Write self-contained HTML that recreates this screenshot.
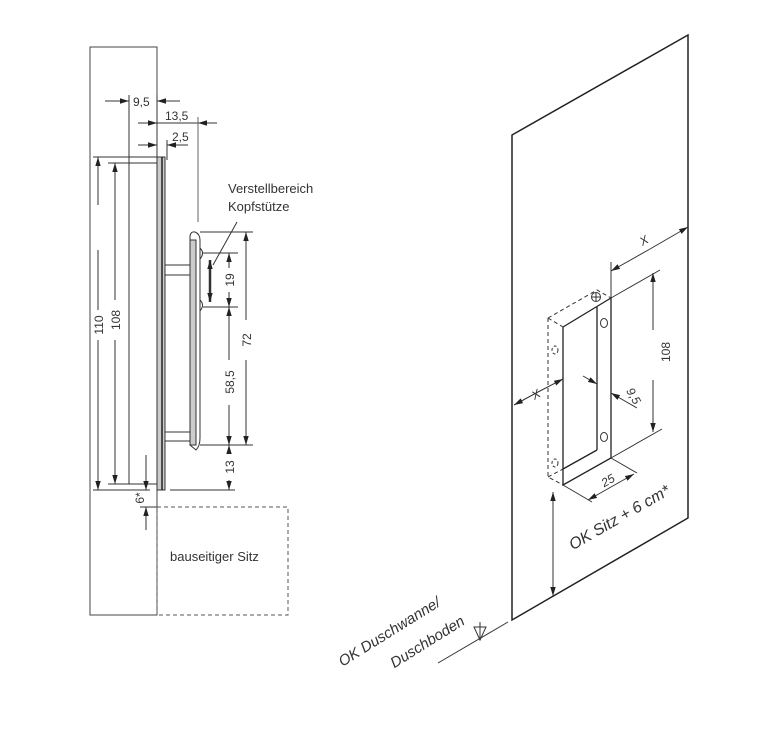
<!DOCTYPE html>
<html><head><meta charset="utf-8"><style>html,body{margin:0;padding:0;background:#fff}svg{display:block}text{font-family:"Liberation Sans",sans-serif;fill:#333}</style></head><body>
<svg width="759" height="742" viewBox="0 0 759 742" xmlns="http://www.w3.org/2000/svg">
<defs>
<marker id="a" viewBox="0 0 10 10" refX="10" refY="5" markerWidth="9" markerHeight="9" orient="auto-start-reverse" markerUnits="userSpaceOnUse"><path d="M0,2 L10,5 L0,8 z" fill="#222"/></marker>
</defs>
<g stroke="#333" stroke-width="1" fill="none">
<rect x="90" y="47" width="67" height="568" stroke="#444"/>
<rect x="157" y="157" width="8" height="333" fill="#ccc" stroke="#333"/>
<line x1="162" y1="157" x2="162" y2="490" stroke="#222" stroke-width="1.5"/>
<polyline points="157,163 129,163 129,484 157,484"/>
<!-- headrest -->
<path d="M190,445 L190,236 Q191,231 195,232 Q200,234 200,240 L200,438 Q200,446 196,450 L190,445 Z" fill="#fff"/>
<rect x="190" y="240" width="6" height="205" fill="#ccc"/>
<path d="M200,248 Q205,253 200,259"/>
<path d="M200,300 Q205,305 200,311"/>
<rect x="165" y="265" width="25" height="10" fill="#fff"/>
<rect x="165" y="432" width="25" height="9" fill="#fff"/>
<!-- dims left -->
<line x1="93" y1="157" x2="157" y2="157"/>
<line x1="108" y1="163" x2="129" y2="163"/>
<line x1="98" y1="205" x2="98" y2="157" marker-end="url(#a)"/>
<line x1="98" y1="340" x2="98" y2="490" marker-end="url(#a)"/>
<line x1="98" y1="310" x2="98" y2="250"/>
<line x1="115" y1="300" x2="115" y2="163" marker-end="url(#a)"/>
<line x1="115" y1="340" x2="115" y2="484" marker-end="url(#a)"/>
<line x1="93" y1="490" x2="150" y2="490"/>
<line x1="108" y1="484" x2="129" y2="484"/>
<line x1="129" y1="95" x2="129" y2="163"/>
<line x1="105" y1="101" x2="129" y2="101" marker-end="url(#a)"/>
<line x1="180" y1="101" x2="157" y2="101" marker-end="url(#a)"/>
<line x1="157" y1="95" x2="157" y2="157"/>
<line x1="138" y1="123" x2="157" y2="123" marker-end="url(#a)"/>
<line x1="198" y1="123" x2="157" y2="123"/>
<line x1="217" y1="123" x2="198" y2="123" marker-end="url(#a)"/>
<line x1="198" y1="117" x2="198" y2="222" stroke="#666"/>
<line x1="138" y1="145" x2="157" y2="145" marker-end="url(#a)"/>
<line x1="188" y1="145" x2="167" y2="145" marker-end="url(#a)"/>
<line x1="167" y1="140" x2="167" y2="160"/>
<line x1="200" y1="232" x2="253" y2="232"/>
<line x1="203" y1="253" x2="238" y2="253"/>
<line x1="203" y1="307" x2="238" y2="307"/>
<line x1="200" y1="445" x2="253" y2="445"/>
<line x1="170" y1="490" x2="235" y2="490"/>
<line x1="246" y1="320" x2="246" y2="232" marker-end="url(#a)"/>
<line x1="246" y1="360" x2="246" y2="445" marker-end="url(#a)"/>
<line x1="229" y1="268" x2="229" y2="253" marker-end="url(#a)"/>
<line x1="229" y1="292" x2="229" y2="307" marker-end="url(#a)"/>
<line x1="229" y1="360" x2="229" y2="307" marker-end="url(#a)"/>
<line x1="229" y1="405" x2="229" y2="445" marker-end="url(#a)"/>
<line x1="229" y1="453" x2="229" y2="445" marker-end="url(#a)"/>
<line x1="229" y1="480" x2="229" y2="490" marker-end="url(#a)"/>
<line x1="210" y1="280" x2="210" y2="260" marker-end="url(#a)" stroke-width="2.5"/>
<line x1="210" y1="280" x2="210" y2="302" marker-end="url(#a)" stroke-width="2.5"/>
<line x1="237" y1="222" x2="213" y2="265"/>
<line x1="146" y1="455" x2="146" y2="490" marker-end="url(#a)"/>
<line x1="146" y1="530" x2="146" y2="507" marker-end="url(#a)"/>
<line x1="140" y1="507" x2="157" y2="507"/>
<rect x="157" y="507" width="131" height="108" stroke-dasharray="4,3" stroke="#555"/>
<!-- right wall -->
<polygon points="512,135 688,35 688,518 512,620" stroke="#222" stroke-width="1.5"/>
<line x1="438" y1="663" x2="508" y2="622"/>
<path d="M474,627 L486,627 L480,640 Z M480,640 L480,622"/>
<!-- box -->
<polygon points="563,327 611,298 611,458 563,485" stroke="#222" stroke-width="1.3"/>
<line x1="597" y1="307" x2="597" y2="450" stroke="#222" stroke-width="1.3"/>
<line x1="597" y1="450" x2="563" y2="469" stroke="#222" stroke-width="1.3"/>
<path d="M548,318 L597,290 L611,298 M548,318 L563,327 M548,318 L548,477 L563,485 M548,477 L563,469" stroke-dasharray="4,3"/>
<circle cx="596" cy="297" r="4.5"/><path d="M591.5,297 h9 M596,292.5 v9"/>
<ellipse cx="604" cy="323" rx="3.5" ry="4.5"/>
<ellipse cx="604" cy="437" rx="3.5" ry="4.5"/>
<ellipse cx="555" cy="350" rx="3" ry="4" stroke-dasharray="3,2"/>
<ellipse cx="555" cy="463" rx="3" ry="4" stroke-dasharray="3,2"/>
<line x1="611" y1="298" x2="611" y2="262"/>
<line x1="650" y1="249" x2="611" y2="271" marker-end="url(#a)"/>
<line x1="650" y1="249" x2="688" y2="227" marker-end="url(#a)"/>
<line x1="611" y1="298" x2="660" y2="270"/>
<line x1="611" y1="458" x2="662" y2="429"/>
<line x1="653" y1="330" x2="653" y2="273" marker-end="url(#a)"/>
<line x1="653" y1="380" x2="653" y2="432" marker-end="url(#a)"/>
<line x1="583" y1="376" x2="597" y2="384" marker-end="url(#a)"/>
<line x1="637" y1="408" x2="611" y2="393" marker-end="url(#a)"/>
<line x1="538" y1="392" x2="514" y2="405" marker-end="url(#a)"/>
<line x1="538" y1="392" x2="563" y2="379" marker-end="url(#a)"/>
<line x1="563" y1="485" x2="592" y2="502"/>
<line x1="611" y1="458" x2="637" y2="473"/>
<line x1="611" y1="487" x2="588" y2="500" marker-end="url(#a)"/>
<line x1="611" y1="487" x2="634" y2="474" marker-end="url(#a)"/>
<line x1="553" y1="545" x2="553" y2="492" marker-end="url(#a)"/>
<line x1="553" y1="545" x2="553" y2="596" marker-end="url(#a)"/>
</g>
<g font-size="12">
<text x="133" y="106">9,5</text>
<text x="165" y="120">13,5</text>
<text x="172" y="141">2,5</text>
<text x="228" y="193" font-size="13">Verstellbereich</text>
<text x="228" y="211" font-size="13">Kopfstütze</text>
<text transform="translate(103,325) rotate(-90)" text-anchor="middle">110</text>
<text transform="translate(120,320) rotate(-90)" text-anchor="middle">108</text>
<text transform="translate(251,340) rotate(-90)" text-anchor="middle">72</text>
<text transform="translate(234,280) rotate(-90)" text-anchor="middle">19</text>
<text transform="translate(234,382) rotate(-90)" text-anchor="middle">58,5</text>
<text transform="translate(234,467) rotate(-90)" text-anchor="middle">13</text>
<text transform="translate(144,498) rotate(-90)" text-anchor="middle">6*</text>
<text x="170" y="561" font-size="13">bauseitiger Sitz</text>
<text transform="translate(670,352) rotate(-90)" text-anchor="middle">108</text>
<text transform="translate(646,244) rotate(-30)" text-anchor="middle" font-style="italic">X</text>
<text transform="translate(538,398) rotate(-30)" text-anchor="middle" font-style="italic">X</text>
<text transform="translate(630,398) rotate(60)" text-anchor="middle" font-style="italic">9,5</text>
<text transform="translate(610,484) rotate(-30)" text-anchor="middle" font-style="italic">25</text>
<text transform="translate(622,522) rotate(-30)" text-anchor="middle" font-style="italic" font-size="16">OK Sitz + 6 cm*</text>
<text transform="translate(392,636) rotate(-32)" text-anchor="middle" font-style="italic" font-size="15">OK Duschwanne/</text>
<text transform="translate(430,646) rotate(-32)" text-anchor="middle" font-style="italic" font-size="15">Duschboden</text>
</g>
</svg>
</body></html>
